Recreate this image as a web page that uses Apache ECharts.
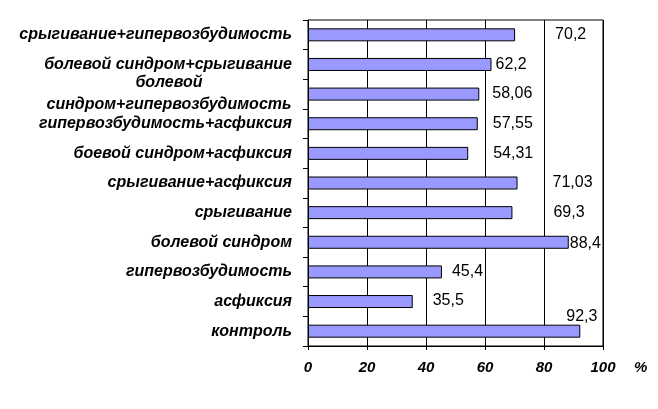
<!DOCTYPE html>
<html lang="ru">
<head>
    <meta charset="UTF-8">
    <title>Chart</title>
    <script src="https://cdn.jsdelivr.net/npm/echarts@6/dist/echarts.min.js"></script>
    <style>
        html, body { margin: 0; padding: 0; background: #fff; }
        #main { width: 658px; height: 409px; }
    </style>
</head>
<body>
<div id="main"></div>
<script>
    // категории сверху вниз
    var categories = [
        'срыгивание+гипервозбудимость',
        'болевой синдром+срыгивание',
        'болевой синдром+гипервозбудимость',
        'гипервозбудимость+асфиксия',
        'боевой синдром+асфиксия',
        'срыгивание+асфиксия',
        'срыгивание',
        'болевой синдром',
        'гипервозбудимость',
        'асфиксия',
        'контроль'
    ];
    var values = [70.2, 62.2, 58.06, 57.55, 54.31, 71.03, 69.3, 88.4, 45.4, 35.5, 92.3];
    var xTicks = [0, 20, 40, 60, 80, 100];
    // сдвиг подписей значений (как в исходнике)
    var labelOffsets = [[40, 0], [4, 0], [13, 0], [15, 0], [25, 0], [35, 0], [41, 0], [1, 1], [10, 0], [20, -1], [-14, -15]];

    var myChart = echarts.init(document.getElementById('main'));

    var barData = [];
    for (var i = 0; i < values.length; i++) {
        barData.push({
            value: values[i],
            label: { offset: labelOffsets[i] }
        });
    }

    var catFont = {
        color: '#000',
        fontFamily: 'Liberation Sans',
        fontSize: 16,
        fontWeight: 'bold',
        fontStyle: 'italic'
    };

    myChart.setOption({
        animation: false,
        grid: {
            left: 308, right: 55, top: 20, bottom: 63,
            show: true, borderColor: '#000', borderWidth: 1,
            outerBoundsMode: 'none'
        },
        xAxis: {
            type: 'value',
            min: xTicks[0], max: xTicks[xTicks.length - 1], interval: 20,
            axisLine: { show: true, lineStyle: { color: '#000', width: 1 } },
            axisTick: { show: true, length: 4, lineStyle: { color: '#000' } },
            splitLine: { show: true, lineStyle: { color: '#000', width: 1 } },
            axisLabel: {
                margin: 14,
                color: '#000',
                fontFamily: 'Liberation Sans',
                fontSize: 15,
                fontWeight: 'bold',
                fontStyle: 'italic'
            }
        },
        yAxis: {
            type: 'category',
            inverse: true,
            data: categories,
            axisLine: { show: true, lineStyle: { color: '#000', width: 1 } },
            axisTick: { show: true, length: 5, lineStyle: { color: '#000' } },
            splitLine: { show: false },
            axisLabel: Object.assign({
                margin: 16,
                lineHeight: 22,
                formatter: function (v) {
                    if (v === 'болевой синдром+гипервозбудимость') {
                        return '{c|болевой}\n{c|синдром+гипервозбудимость}';
                    }
                    return v;
                },
                rich: {
                    c: Object.assign({ width: 246, align: 'center', lineHeight: 22 }, catFont)
                }
            }, catFont)
        },
        graphic: [{
            type: 'text',
            left: 634,
            top: 360,
            style: {
                text: '%',
                fill: '#000',
                font: 'italic bold 15px "Liberation Sans"'
            }
        }],
        series: [{
            type: 'bar',
            data: barData,
            barWidth: 13,
            itemStyle: { color: '#9999FF', borderColor: '#000', borderWidth: 1 },
            label: {
                show: true,
                position: 'right',
                distance: 0,
                color: '#000',
                fontFamily: 'Liberation Sans',
                fontSize: 16,
                formatter: function (p) {
                    return String(p.value).replace('.', ',');
                }
            }
        }]
    });
</script>
</body>
</html>
